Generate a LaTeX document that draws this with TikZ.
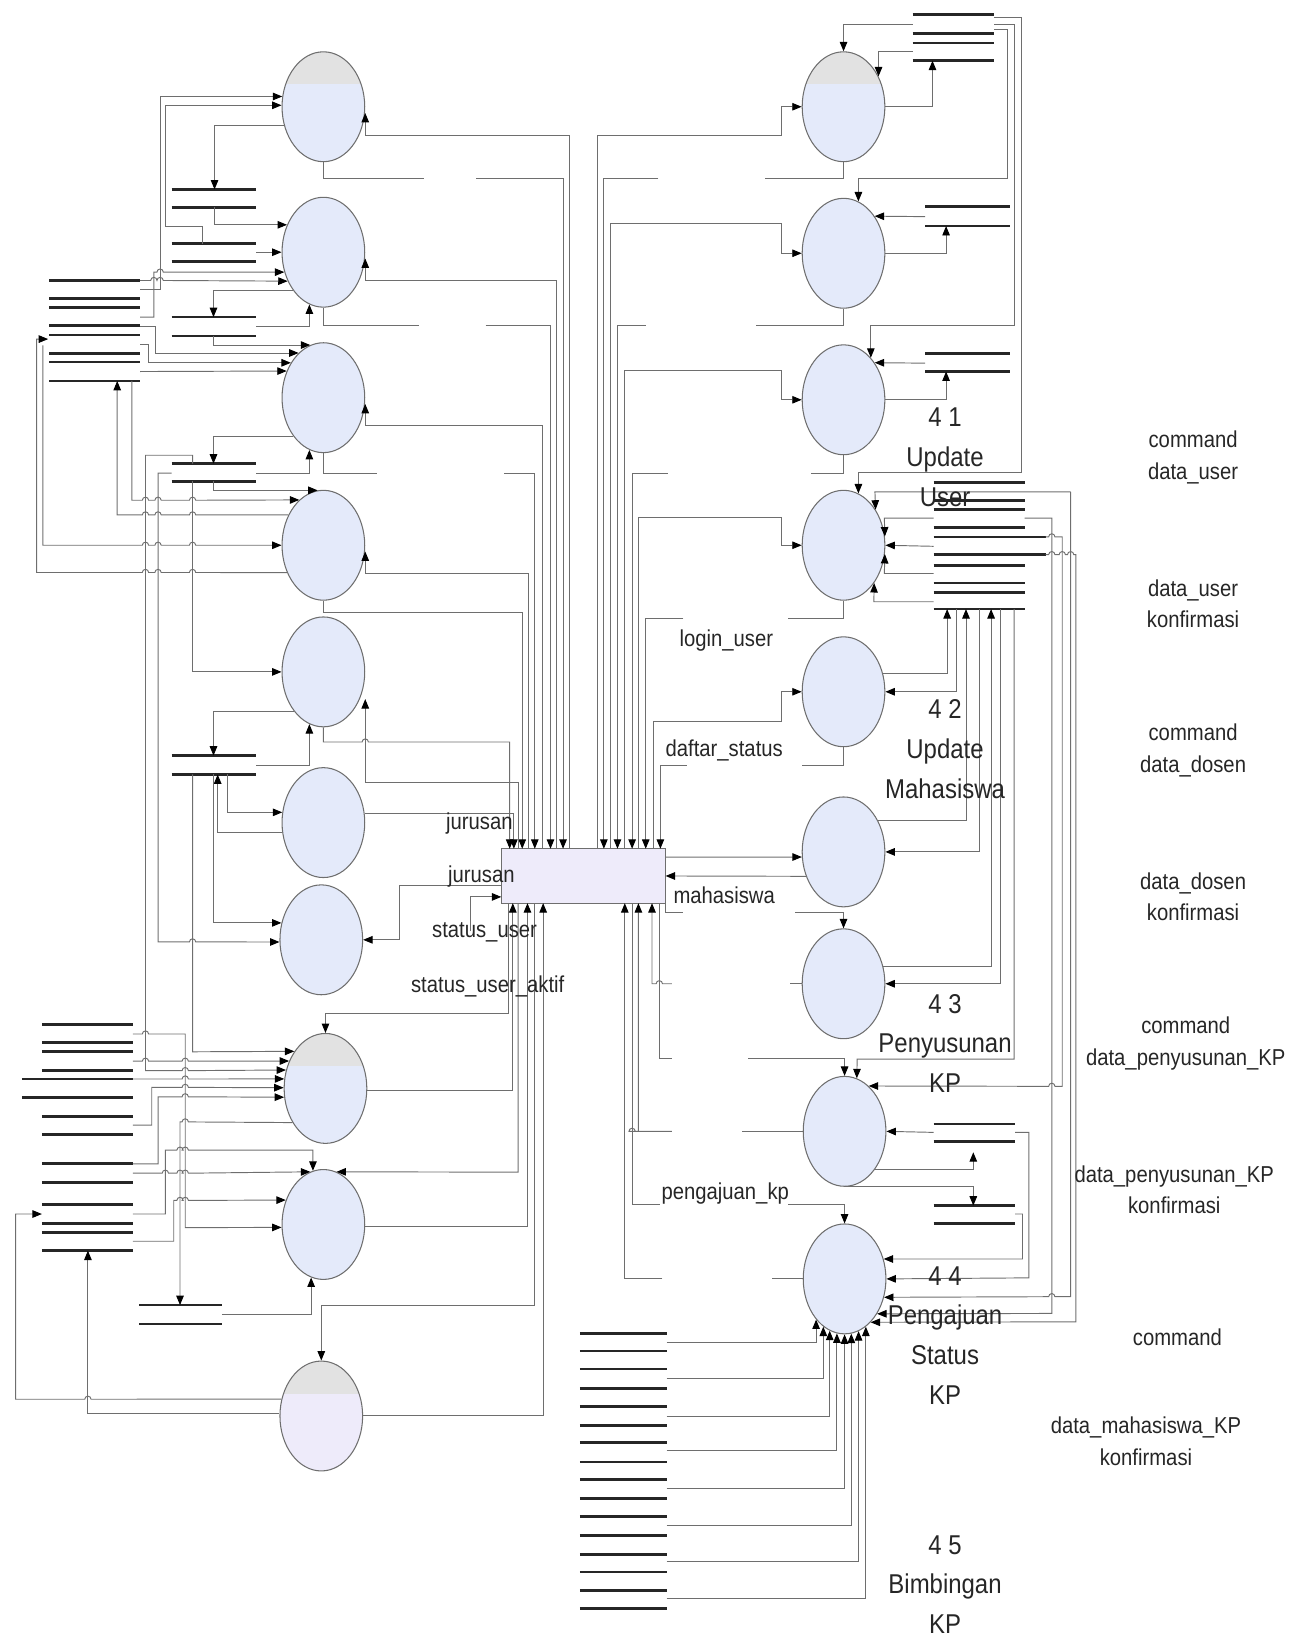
\documentclass[tikz,border=0pt]{standalone}
\usepackage{fontspec}
\setmainfont{Liberation Sans}[FakeStretch=0.88]
\usetikzlibrary{shapes.geometric, arrows.meta}
\definecolor{procblue}{RGB}{228,234,250}
\definecolor{capgray}{RGB}{226,226,226}
\definecolor{boxlav}{RGB}{238,235,250}
\definecolor{wiregray}{RGB}{110,110,110}
\tikzset{
  proc/.style={ellipse, draw=wiregray, line width=0.5pt, fill=procblue,
    minimum width=39.5pt, minimum height=52.5pt, inner sep=0pt},
  capped/.style={path picture={\fill[capgray] (path picture bounding box.north west)
    rectangle ([yshift=-15.5pt]path picture bounding box.north east);}},
  wire/.style={draw=wiregray, line width=0.45pt},
  flow/.style={wire, -{Triangle[length=4.5pt,width=3.6pt,color=black]}},
  flowr/.style={wire, {Triangle[length=4.5pt,width=3.6pt,color=black]}-},
  store/.style={line width=1.3pt, black!85},
  lbl/.style={font=\fontsize{11}{15}\selectfont, inner sep=0pt, align=center, text=black!85},
  plbl/.style={font=\fontsize{13}{19}\selectfont, inner sep=0pt, align=center, text=black!85},
  jmp/.style 2 args={insert path={-- ({#1-3},#2) arc[start angle=180,end angle=360,radius=3]}},
  jmpl/.style 2 args={insert path={-- ({#1+3},#2) arc[start angle=0,end angle=-180,radius=3]}},
}
\begin{document}
\begin{tikzpicture}[x=0.5pt, y=-0.5pt]
\useasboundingbox (0,0) rectangle (1233,1568);

% data stores
\foreach \ya/\yb in {181/198, 233/250, 303/321, 443/460, 722/740}
  \draw[store] (164,\ya) -- (245,\ya) (164,\yb) -- (245,\yb);
\draw[store] (133,1247) -- (212,1247) (133,1265) -- (212,1265);
\foreach \y in {268,285,294,311,320,338,346,364}
  \draw[store] (47,\y) -- (134,\y);
\foreach \y in {979,996,1005,1023,1067,1084,1112,1130,1151,1169,1178,1195}
  \draw[store] (40,\y) -- (127,\y);
\draw[store] (21,1031) -- (127,1031) (21,1049) -- (127,1049);
\foreach \y in {1274,1291,1308,1327,1344,1362,1378,1397,1414,1432,1449,1467,1485,1502,1520,1537}
  \draw[store] (554,\y) -- (637,\y);
\foreach \y in {14,32,41,58}
  \draw[store] (872,\y) -- (950,\y);
\foreach \y in {197,216,338,355}
  \draw[store] (884,\y) -- (965,\y);
\foreach \y in {461,478,487,504,540,557,566,582}
  \draw[store] (892,\y) -- (979,\y);
\draw[store] (892,513) -- (999,513) (892,530) -- (999,530);
\foreach \y in {1074,1091,1152,1169}
  \draw[store] (892,\y) -- (970,\y);

% processes
\node[proc, capped] (L1) at (309,102) {};
\node[proc] (L2) at (309,241) {};
\node[proc] (L3) at (309,380) {};
\node[proc] (L4) at (309,521) {};
\node[proc] (L5) at (309,642) {};
\node[proc] (L6) at (309,786) {};
\node[proc] (L7) at (307,898) {};
\node[proc, capped] (L8) at (311,1040) {};
\node[proc] (L9) at (309,1170) {};
\node[proc, capped, fill=boxlav] (L10) at (307,1353) {};
\node[proc, capped] (R1) at (806,102) {};
\node[proc] (R2) at (806,242) {};
\node[proc] (R3) at (806,382) {};
\node[proc] (R4) at (806,521) {};
\node[proc] (R5) at (806,661) {};
\node[proc] (R6) at (806,814) {};
\node[proc] (R7) at (806,940) {};
\node[proc] (R8) at (807,1081) {};
\node[proc] (R9) at (807,1222) {};
\node[draw=wiregray, fill=boxlav, minimum width=78.5pt, minimum height=26pt, inner sep=0pt] (box) at (557.5,837) {};

% left column
\draw[flow] (134,277) -- (153,277) |- (L1.166);
\draw[flow] (193,233) -- (193,216) -- (158,216) |- (L1.178);
\draw[flow] (L1.205) -| (205,181);
\draw[flowr] ([yshift=-3pt]L1.east) -- ++(0,21) -| (544,811);
\draw[wire] (L1.south) |- (405,171);
\draw[flow] (455,171) -| (538,811);

\draw[flow] (205,198) |- (L2.143);
\draw[flow] (245,241) -- (L2.west);
\draw[flow] (134,303) -- (147,303) -- (147,260) [jmp={153}{260}] -- (L2.207);
\draw[flow] (134,268) [jmp={147}{268}] [jmp={153}{268}] -- (L2.219);
\draw[flow] (L2.231) -| (204,303);
\draw[flow] (245,312) -| (L2.255);
\draw[flowr] ([yshift=-3pt]L2.east) -- ++(0,21) -| (532,811);
\draw[wire] (L2.south) |- (400,311);
\draw[flow] (464,311) -| (526,811);

\draw[flow] (204,321) |- (L3.104);
\draw[flow] (134,312) -- (149,312) |- (L3.119);
\draw[flow] (134,329) -- (142,329) |- (L3.133);
\draw[flow] (134,355) -- (L3.144);
\draw[flow] (L3.232) -| (204,443);
\draw[flow] (245,452) -| (L3.255);
\draw[flowr] ([yshift=-3pt]L3.east) -- ++(0,21) -| (518,811);
\draw[wire] (L3.south) |- (360,452);
\draw[flow] (482,452) -| (511,811);

\draw[flow] (204,460) |- (L4.96);
\draw[flow] (184,443) -- (184,435) -- (139,435) -- (139,1023) [jmp={177}{1023}] -- (L8.155);
\draw[flow] (164,452) -- (151,452) -- (151,900) [jmp={184}{900}] -- (L7.183);
\draw[flow] (184,460) |- (L5.west);
\draw[flow] (126,364) -- (126,478) [jmp={139}{478}] [jmp={151}{478}] [jmp={184}{478}] -- (L4.118);
\draw[flow] (L4.139) [jmpl={184}{492}] [jmpl={151}{492}] [jmpl={139}{492}] -- (112,492) -- (112,364);
\draw[flow] (41,330) -- (41,521) [jmp={139}{521}] [jmp={151}{521}] [jmp={184}{521}] -- (L4.west);
\draw[flow] (L4.217) [jmpl={184}{547}] [jmpl={151}{547}] [jmpl={139}{547}] -- (35,547) -- (35,324) -- (46,324);
\draw[flowr] ([yshift=-3pt]L4.east) -- ++(0,21) -| (505,811);
\draw[flow] (L4.south) |- (499,585) -- (499,811);

\draw[flow] (L5.234) -| (204,722);
\draw[flow] (245,731) -| (L5.255);
\draw[flow] (L5.south) |- (340,709) [jmp={349}{709}] -- (487,709) -- (487,811);
\draw[flow] (495,811) -- (495,748) -- (349,748) -- (349,668);

\draw[flow] (217,740) |- (L6.166);
\draw[flow] (L6.194) -| (208,740);
\draw[flow] (L6.13) -| (491,811);

\draw[flow] (204,740) |- (L7.157);
\draw[flow] (479,846) -- (382,846) |- (L7.east);
\draw[flow] (450,890) -- (450,857) -- (479,857);

\draw[flow] (486,863) -- (486,968) -- (311,968) -- (L8.north);
\draw[flow] (184,740) -- (184,1005) -- (L8.130);
\draw[flow] (127,1014) [jmp={139}{1014}] [jmp={177}{1014}] -- (L8.143);
\draw[flow] (127,1031) [jmp={177}{1031}] -- (L8.167);
\draw[flow] (127,1075) -- (145,1075) -- (145,1039) [jmp={177}{1039}] -- (L8.179);
\draw[flow] (127,1112) -- (151,1112) -- (151,1048) [jmp={177}{1048}] -- (L8.192);
\draw[flow] (127,988) [jmp={139}{988}] -- (177,988) -- (177,1173) -- (L9.184);
\draw[flow] (L8.226) [jmpl={177}{1072}] -- (172,1072) -- (172,1247);
\draw[flow] (L8.-3) -| (490,863);

\draw[flow] (127,1160) -- (158,1160) -- (158,1099) [jmp={172}{1099}] [jmp={177}{1099}] -- (299,1099) -- (L9.101);
\draw[flow] (127,1121) [jmp={158}{1121}] [jmp={172}{1121}] [jmp={177}{1121}] -- (L9.104);
\draw[flow] (127,1186) -- (166,1186) -- (166,1147) [jmp={172}{1147}] [jmp={177}{1147}] -- (L9.147);
\draw[flow] (495,863) -- (495,1120) -- (L9.76);
\draw[flow] (212,1256) -| (L9.257);
\draw[flow] (L9.-3) -| (504,863);
\draw[flow] (511,863) -- (511,1247) -- (307,1247) -- (L10.north);

\draw[flow] (L10.157) [jmpl={84}{1337}] -- (15,1337) -- (15,1160) -- (40,1160);
\draw[flow] (L10.177) -| (84,1195);
\draw[flow] (L10.1) -| (519,863);

% right column
\draw[flow] (872,23) -| (R1.north);
\draw[flow] (872,49) -| (R1.41);
\draw[flow] (R1.east) -| (891,58);
\draw[flow] (571,811) -- (571,129) -- (747,129) |- (R1.west);
\draw[wire] (R1.south) |- (731,171);
\draw[flow] (629,171) -| (577,811);
\draw[flow] (950,17) -| (976,451) -| (R4.74);
\draw[flow] (950,23) -| (969,311) -| (R3.57);
\draw[flow] (950,28) -| (963,171) -| (R2.74);

\draw[flow] (884,207) -- (R2.50);
\draw[flow] (R2.east) -| (904,216);
\draw[flow] (583,811) -- (583,214) -- (747,214) |- (R2.west);
\draw[wire] (R2.south) |- (722,311);
\draw[flow] (617,311) -| (590,811);

\draw[flow] (884,347) -- (R3.50);
\draw[flow] (R3.east) -| (904,355);
\draw[flow] (597,811) -- (597,354) -- (747,354) |- (R3.west);
\draw[wire] (R3.south) |- (775,452);
\draw[flow] (638,452) -| (604,811);

\draw[flow] (610,811) -- (610,494) -- (747,494) |- (R4.west);
\draw[wire] (R4.south) |- (753,591);
\draw[flow] (653,591) -| (617,811);
\draw[flow] (1023,470) -- (836,470) -- (R4.48);
\draw[flow] (892,495) -- (845,495) -- (R4.12);
\draw[flow] (892,522) -- (R4.east);
\draw[flow] (892,548) -- (845,548) -- (R4.-12);
\draw[flow] (892,575) -- (835,575) -- (R4.-51);
\draw[flow] (979,495) -- (1005,495) -- (1005,1255) -- (R9.-47);
\draw[flow] (999,513) [jmp={1005}{513}] -- (1015,513) -- (1015,1038) [jmpl={1005}{1038}] -- (R8.62);
\draw[flow] (1023,470) -- (1023,1239) [jmpl={1005}{1239}] -- (R9.-25);
\draw[flow] (999,530) [jmp={1005}{530}] [jmp={1015}{530}] [jmp={1023}{530}] -- (1028,530) -- (1028,1263) -- (R9.-59);

\draw[flow] (R5.25) -| (905,582);
\draw[flow] (914,582) |- (R5.east);
\draw[flow] (R6.43) -| (923,582);
\draw[flow] (936,582) |- (R6.east);
\draw[flow] (R7.23) -| (947,582);
\draw[flow] (956,582) |- (R7.east);
\draw[flow] (969,582) |- (819,1012) -- (R8.77);

\draw[flow] (624,811) -- (624,689) -- (747,689) |- (R5.west);
\draw[wire] (R5.south) |- (766,731);
\draw[flow] (656,731) -| (631,811);

\draw[flow] (636,819) -- (R6.187);
\draw[flow] (R6.213) -- (636,837);

\draw[wire] (636,863) -- (636,872) -- (653,872);
\draw[flow] (760,872) -| (R7.north);
\draw[wire] (R7.west) -- (755,940);
\draw[flow] (642,940) [jmpl={630}{940}] -| (623,863);

\draw[wire] (630,863) -- (630,1011) -- (642,1011);
\draw[flow] (715,1011) -| (R8.north);
\draw[wire] (R8.west) -- (709,1081);
\draw[flow] (642,1081) [jmpl={604}{1081}] -| (610,863);
\draw[flow] (892,1082) -- (R8.east);
\draw[flow] (R8.-51) -| (930,1101);
\draw[flow] (R8.south) |- (930,1134) -- (930,1152);

\draw[wire] (604,863) -- (604,1151) -- (631,1151);
\draw[flow] (753,1151) -| (R9.north);
\draw[wire] (R9.west) -- (738,1222);
\draw[flow] (633,1222) -| (597,863);
\draw[flow] (970,1082) -- (983,1082) -- (983,1221) -- (R9.east);
\draw[flow] (970,1160) -- (977,1160) -- (977,1203) -- (R9.27);
\foreach \y/\a in {1283/235, 1317/246, 1353/254, 1386/262, 1422/270, 1458/277, 1492/285, 1527/294}
  \draw[flow] (637,\y) -| (R9.\a);

% labels
\node[plbl] (t41) at (903,437) {4 1\\Update\\User};
\node[plbl] (t42) at (903,716) {4 2\\Update\\Mahasiswa};
\node[plbl] (t43) at (903,997) {4 3\\Penyusunan\\KP};
\node[plbl] (t44) at (903,1276) {4 4\\Pengajuan\\Status\\KP};
\node[plbl] (t45) at (903,1514) {4 5\\Bimbingan\\KP};

\node[lbl] (f1) at (1140,437) {command\\data\_user};
\node[lbl] (f2) at (1140,577) {data\_user\\konfirmasi};
\node[lbl] (f3) at (1140,717) {command\\data\_dosen};
\node[lbl] (f4) at (1140,857) {data\_dosen\\konfirmasi};
\node[lbl] (f5) at (1133,997) {command\\data\_penyusunan\_KP};
\node[lbl] (f6) at (1122,1137) {data\_penyusunan\_KP\\konfirmasi};
\node[lbl] (f7) at (1125,1278) {command};
\node[lbl] (f8) at (1095,1377) {data\_mahasiswa\_KP\\konfirmasi};

\node[lbl] (m1) at (458,787) {jurusan};
\node[lbl] (m2) at (460,838) {jurusan};
\node[lbl] (m3) at (463,891) {status\_user};
\node[lbl] (m4) at (466,943) {status\_user\_aktif};
\node[lbl] (m5) at (694,612) {login\_user};
\node[lbl] (m6) at (692,717) {daftar\_status};
\node[lbl] (m7) at (692,855) {mahasiswa};
\node[lbl] (m8) at (693,1140) {pengajuan\_kp};
\end{tikzpicture}
\end{document}
